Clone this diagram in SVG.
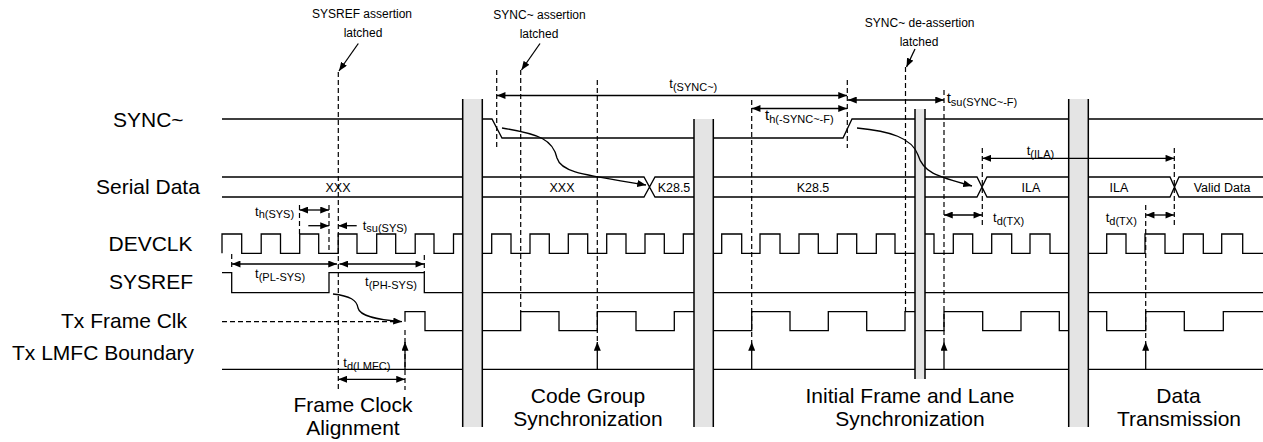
<svg xmlns="http://www.w3.org/2000/svg" width="1263" height="442" viewBox="0 0 1263 442">
<defs>
<style>
.sig{fill:none;stroke:#000;stroke-width:1.3}
.dash{fill:none;stroke:#000;stroke-width:1.2;stroke-dasharray:5,3}
.dim{fill:none;stroke:#000;stroke-width:1.3;marker-start:url(#ah);marker-end:url(#ah)}
.one{fill:none;stroke:#000;stroke-width:1.3;marker-end:url(#ah)}
.bar{fill:#e4e4e4;stroke:none}
.edge{stroke:#000;stroke-width:1.5}
text{font-family:"Liberation Sans",Arial,sans-serif;fill:#000}
.big{font-size:21px}
.mid{font-size:12.5px;text-anchor:middle}
.note{font-size:12px;text-anchor:middle}
.t{font-size:13px}
.s{font-size:11px}
.ph{font-size:21px;text-anchor:middle}
</style>
<marker id="ah" viewBox="0 0 10 8" refX="10" refY="4" markerWidth="9" markerHeight="7" markerUnits="userSpaceOnUse" orient="auto-start-reverse"><path d="M0,0 L10,4 L0,8 z" fill="#000"/></marker>
</defs>
<rect width="1263" height="442" fill="#fff"/>

<g id="labels">
<text class="big" x="113" y="127">SYNC~</text>
<text class="big" x="96" y="194">Serial Data</text>
<text class="big" x="108.5" y="251">DEVCLK</text>
<text class="big" x="109" y="289">SYSREF</text>
<text class="big" x="61" y="328">Tx Frame Clk</text>
<text class="big" x="12" y="360">Tx LMFC Boundary</text>
</g>

<g id="sync">
<path class="sig" d="M222,119 H492 L502,138 H843 L852,119 H1263"/>
</g>

<g id="serial-data">
<path class="sig" d="M222,177 H462.7 M222,197 H462.7"/>
<path class="sig" d="M482.3,177 H644 L655,197 H694 M482.3,197 H644 L655,177 H694"/>
<path class="sig" d="M713.3,177 H977 L987,197 H1068.7 M713.3,197 H977 L987,177 H1068.7"/>
<path class="sig" d="M1088.3,177 H1170 L1179,197 H1263 M1088.3,197 H1170 L1179,177 H1263"/>
<text class="mid" x="338" y="191.5">XXX</text>
<text class="mid" x="562" y="191.5">XXX</text>
<text class="mid" x="674" y="191.5">K28.5</text>
<text class="mid" x="813" y="191.5">K28.5</text>
<text class="mid" x="1031" y="191.5">ILA</text>
<text class="mid" x="1119" y="191.5">ILA</text>
<text class="mid" x="1222" y="191.5">Valid Data</text>
</g>

<g id="devclk">
<path class="sig" d="M222,253.3 V234 H241.7 V253.3 H261.2 V234 H280.5 V253.3 H299.7 V234 H318.7 V253.3 H338.2 V234 H357 V253.3 H376.7 V234 H395.7 V253.3 H415.2 V234 H434 V253.3 H453.5 V234 H462.7"/>
<path class="sig" d="M482.3,253.3 H491.7 V234 H511 V253.3 H530 V234 H549.3 V253.3 H568.3 V234 H587.7 V253.3 H606.7 V234 H626 V253.3 H645 V234 H664.3 V253.3 H683.3 V234 H694"/>
<path class="sig" d="M713.3,253.3 H721.7 V234 H741.7 V253.3 H760 V234 H780 V253.3 H799 V234 H818.3 V253.3 H837.3 V234 H856.7 V253.3 H876.3 V234 H895 V253.3 H915"/>
<path class="sig" d="M925,234 H934 V253.3 H953.3 V234 H972.7 V253.3 H991.7 V234 H1011.7 V253.3 H1030 V234 H1050 V253.3 H1068.7"/>
<path class="sig" d="M1088.3,253.3 H1106.7 V234 H1126 V253.3 H1145 V234 H1165 V253.3 H1183.3 V234 H1203.3 V253.3 H1221.7 V234 H1242.7 V253.3 H1263"/>
</g>

<g id="sysref">
<path class="sig" d="M222,272.7 H231.7 V292.7 H329 V272.7 H424.3 V292.7 H1263"/>
</g>

<g id="frame-clk">
<path class="dash" d="M222,321.7 H397"/>
<path class="sig" d="M405,321.7 V311.7 H425 V330.7 H462.7"/>
<path class="sig" d="M482.3,330.7 H520.7 V311.7 H559 V330.7 H597.3 V311.7 H636 V330.7 H674.3 V311.7 H694"/>
<path class="sig" d="M713.3,330.7 H751.7 V311.7 H790 V330.7 H828.3 V311.7 H866.7 V330.7 H905 V311.7 H915"/>
<path class="sig" d="M925,330.7 H944 V311.7 H982.7 V330.7 H1021 V311.7 H1059.3 V330.7 H1068.7"/>
<path class="sig" d="M1088.3,311.7 H1106.7 V330.7 H1145.7 V311.7 H1184.3 V330.7 H1223.3 V311.7 H1263"/>
</g>

<g id="lmfc">
<path class="sig" d="M222,369.3 H1263"/>
<path class="one" d="M405,369.3 V342"/>
<path class="one" d="M597.3,369.3 V342"/>
<path class="one" d="M751.7,369.3 V342"/>
<path class="one" d="M944,369.3 V342"/>
<path class="one" d="M1145.7,369.3 V342"/>
</g>

<g id="phase-breaks">
<rect class="bar" x="462.7" y="99" width="19.6" height="328"/>
<path class="edge" d="M462.7,99 V427 M482.3,99 V427"/>
<rect class="bar" x="694" y="119" width="19.3" height="308"/>
<path class="edge" d="M694,119 V427 M713.3,119 V427"/>
<rect class="bar" x="915" y="109" width="10" height="270"/>
<path class="edge" d="M915,109 V379 M925,109 V379"/>
<rect class="bar" x="1068.7" y="99" width="19.6" height="328"/>
<path class="edge" d="M1068.7,99 V427 M1088.3,99 V427"/>
</g>

<g id="connectors">
<path class="dash" d="M338.3,72 V390"/>
<path class="dash" d="M299.5,205 V234"/>
<path class="dash" d="M329,205 V253"/>
<path class="dash" d="M231.7,254 V268"/>
<path class="dash" d="M424.3,255 V273"/>
<path class="dash" d="M405,330 V390"/>
<path class="dash" d="M496.7,70 V148"/>
<path class="dash" d="M520.7,70 V311.7"/>
<path class="dash" d="M597.3,80 V342"/>
<path class="dash" d="M751.7,100 V342"/>
<path class="dash" d="M847.3,80 V148"/>
<path class="dash" d="M905.5,67 V311.7"/>
<path class="dash" d="M944,90 V342"/>
<path class="dash" d="M982.3,148 V225"/>
<path class="dash" d="M1174.3,148 V225"/>
<path class="dash" d="M1145.7,205 V342"/>

<path class="one" d="M358.3,43.5 L339,71"/>
<path class="one" d="M540,43.5 L521.5,70"/>
<path class="one" d="M915,49 L906.5,67"/>

<path class="dim" d="M299.5,210 H329"/>
<path class="one" d="M308.3,225.7 H329"/>
<path class="one" d="M356.7,225.7 H338.3"/>
<path class="dim" d="M231.7,264 H337"/>
<path class="dim" d="M339.5,264 H424.3"/>
<path class="dim" d="M338.3,379.3 H405"/>
<path class="dim" d="M496.7,95.5 H847"/>
<path class="dim" d="M751.7,108.5 H847"/>
<path class="dim" d="M848,100 H944"/>
<path class="dim" d="M982.3,158.3 H1174.3"/>
<path class="dim" d="M944,215 H982.3"/>
<path class="dim" d="M1145.7,215 H1174.3"/>

<path class="one" d="M333,294 C350,296 357,300 358,308 C360,317 380,320 402,321.7"/>
<path class="one" d="M502,128 C540,134 553,140 557,158 C561,172 580,174 646,185"/>
<path class="one" d="M857,128 C890,131 912,138 918,155 C923,172 935,176 972,186"/>
</g>

<g id="timing-labels">
<text x="255" y="215.5"><tspan class="t">t</tspan><tspan class="s" dy="2.5">h(SYS)</tspan></text>
<text x="362.7" y="229.5"><tspan class="t">t</tspan><tspan class="s" dy="2.5">su(SYS)</tspan></text>
<text x="255" y="278"><tspan class="t">t</tspan><tspan class="s" dy="3">(PL-SYS)</tspan></text>
<text x="365" y="285.5"><tspan class="t">t</tspan><tspan class="s" dy="3">(PH-SYS)</tspan></text>
<text x="343.3" y="367"><tspan class="t">t</tspan><tspan class="s" dy="2.5">d(LMFC)</tspan></text>
<text x="669.3" y="88"><tspan class="t">t</tspan><tspan class="s" dy="3">(SYNC~)</tspan></text>
<text x="765" y="120"><tspan class="t" style="font-size:15px">t</tspan><tspan class="s" dy="3">h(-SYNC~-F)</tspan></text>
<text x="946.7" y="103.3"><tspan class="t" style="font-size:15px">t</tspan><tspan class="s" dy="3">su(SYNC~-F)</tspan></text>
<text x="1026.7" y="154.5"><tspan class="t">t</tspan><tspan class="s" dy="3">(ILA)</tspan></text>
<text x="993" y="222"><tspan class="t">t</tspan><tspan class="s" dy="3">d(TX)</tspan></text>
<text x="1105.7" y="222"><tspan class="t">t</tspan><tspan class="s" dy="3">d(TX)</tspan></text>
</g>

<g id="notes">
<text class="note" x="362" y="17.5">SYSREF assertion</text>
<text class="note" x="363" y="36.5">latched</text>
<text class="note" x="539.5" y="18.5">SYNC~ assertion</text>
<text class="note" x="539" y="37.5">latched</text>
<text class="note" x="919.7" y="26.5">SYNC~ de-assertion</text>
<text class="note" x="919" y="46">latched</text>
</g>

<g id="phases">
<text class="ph" x="353" y="412">Frame Clock</text>
<text class="ph" x="353" y="435">Alignment</text>
<text class="ph" x="588" y="403">Code Group</text>
<text class="ph" x="588" y="426">Synchronization</text>
<text class="ph" x="910" y="403">Initial Frame and Lane</text>
<text class="ph" x="910" y="426">Synchronization</text>
<text class="ph" x="1178.5" y="403">Data</text>
<text class="ph" x="1179" y="426">Transmission</text>
</g>
</svg>
